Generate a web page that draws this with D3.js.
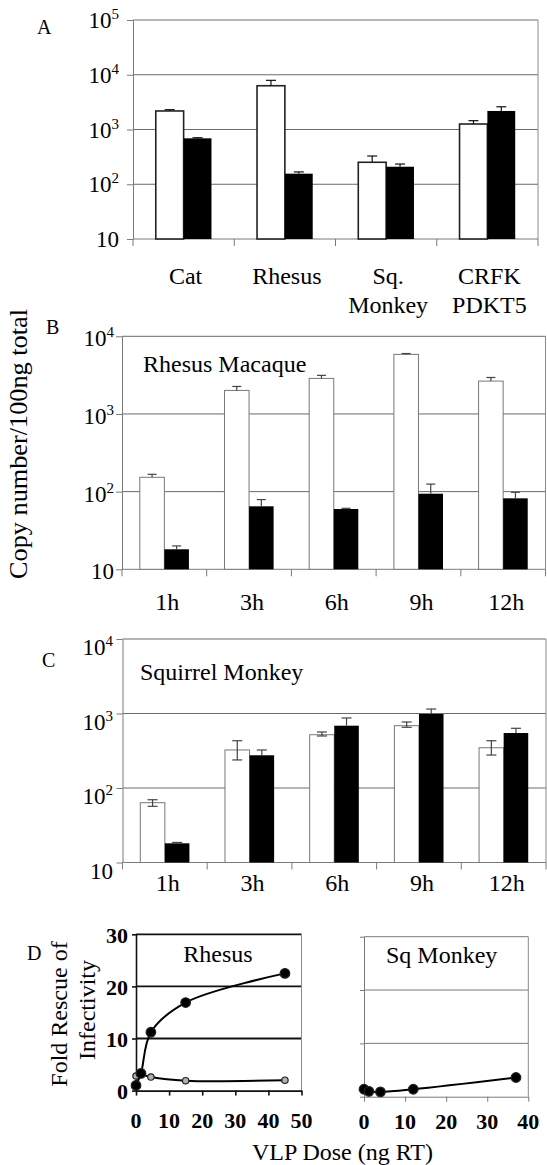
<!DOCTYPE html>
<meta charset="utf-8">
<title>Copy number and fold rescue</title>
<style>
  body { margin: 0; background: #fff; }
  svg { display: block; }
  svg text { font-family: "Liberation Serif", Tinos, "Times New Roman", "DejaVu Serif", serif; }
</style>
<body>
<svg id="fig" width="547" height="1165"></svg>
<script src="https://cdn.jsdelivr.net/npm/d3@7"></script>
<script>
// ---- panel A: cell types ----
const speciesA = [["Cat"], ["Rhesus"], ["Sq.", "Monkey"], ["CRFK", "PDKT5"]];
const whiteA = [2180, 6300, 252, 1260];
const whiteAHi = [2300, 7900, 328, 1450];
const blackA = [690, 156, 209, 2180];
const blackAHi = [708, 168, 234, 2600];
const ticksA = [10, 1e2, 1e3, 1e4, 1e5];

// ---- panels B and C: time course ----
const hours = ["1h", "3h", "6h", "9h", "12h"];
const whiteB = [153, 2010, 2870, 5850, 2650];
const whiteBHi = [167, 2260, 3140, 6000, 2950];
const blackB = [18.1, 64.7, 59.7, 94, 82];
const blackBHi = [20, 79, 61, 125, 98];

const whiteC = [63.5, 324, 519, 686, 347];
const whiteCHi = [69.6, 431, 565, 769, 431];
const whiteCLo = [56.8, 238, 499, 653, 277];
const blackC = [18.1, 275, 686, 985, 547];
const blackCHi = [18.6, 324, 871, 1148, 633];
const ticksBC = [10, 1e2, 1e3, 1e4];

// ---- panel D: fold rescue vs VLP dose ----
const rhesusDose = [0, 1.5, 4.5, 15, 45];
const rhesusFilled = [1.0, 3.3, 11.2, 16.9, 22.5];
const rhesusOpen = [2.8, 3.1, 2.6, 1.9, 2.0];
const sqDose = [0, 1.2, 4, 12, 37];
const sqFilled = [1.4, 1.0, 0.9, 1.4, 3.6];
const foldTicks = [0, 10, 20, 30];
const doseTicksL = [0, 10, 20, 30, 40, 50];
const doseTicksR = [0, 10, 20, 30, 40];

const svg = d3.select("#fig");

function powLabel(g, x, y, v) {
  const e = Math.round(Math.log10(v));
  const t = g.append("text").attr("x", x).attr("y", y)
    .attr("text-anchor", "end").attr("font-size", 23);
  if (e === 1) { t.text("10"); return; }
  t.append("tspan").text("10");
  t.append("tspan").attr("font-size", 15).attr("dy", -9).text(e);
}

function barPanel(o) {
  const g = svg.append("g");
  const y = d3.scaleLog().domain(o.domain).range([o.bottom, o.top]);
  const x = d3.scaleBand().domain(o.cats.map((d, i) => i))
    .range([o.left, o.right]).paddingInner(o.pad).paddingOuter(o.pad / 2);
  const bw = x.bandwidth() / 2;

  // grid + top border
  g.selectAll(null).data(o.ticks.slice(1)).join("line")
    .attr("x1", o.left).attr("x2", o.right)
    .attr("y1", d => y(d)).attr("y2", d => y(d))
    .attr("stroke", "#6a6a6a").attr("stroke-width", 1);
  g.append("line").attr("x1", o.right).attr("x2", o.right)
    .attr("y1", o.top).attr("y2", o.bottom).attr("stroke", "#8a8a8a");

  // y axis
  g.append("g").attr("transform", `translate(${o.left},0)`)
    .call(d3.axisLeft(y).tickValues(o.ticks).tickSize(6).tickSizeOuter(0).tickFormat(""))
    .call(s => s.selectAll("path,line").attr("stroke", "#7a7a7a"));
  o.ticks.forEach(v => powLabel(g, o.labelX, y(v) + 8 + o.labelDy, v));

  // x axis with ticks between categories
  g.append("line").attr("x1", o.left).attr("x2", o.right)
    .attr("y1", o.bottom).attr("y2", o.bottom).attr("stroke", "#7a7a7a");
  const edges = o.cats.map((d, i) => x(i) - x.step() * o.pad / 2).concat([o.right]);
  g.selectAll(null).data(edges).join("line")
    .attr("x1", d => d).attr("x2", d => d)
    .attr("y1", o.bottom).attr("y2", o.bottom + 7).attr("stroke", "#7a7a7a");

  // bars
  g.selectAll(null).data(o.white).join("rect")
    .attr("x", (d, i) => x(i)).attr("width", bw)
    .attr("y", d => y(d)).attr("height", d => o.bottom - y(d))
    .attr("fill", "#fff").attr("stroke", o.outline).attr("stroke-width", o.outlineW);
  g.selectAll(null).data(o.black).join("rect")
    .attr("x", (d, i) => x(i) + bw).attr("width", bw)
    .attr("y", d => y(d)).attr("height", d => o.bottom - y(d))
    .attr("fill", "#000");

  // error bars
  function err(vals, hi, lo, off) {
    vals.forEach((v, i) => {
      const cx = x(i) + off + bw / 2;
      const y0 = lo ? y(lo[i]) : y(v);
      const y1 = y(hi[i]);
      g.append("line").attr("x1", cx).attr("x2", cx).attr("y1", y0).attr("y2", y1)
        .attr("stroke", o.errColor).attr("stroke-width", 1.2);
      [y1].concat(lo ? [y0] : []).forEach(yy =>
        g.append("line").attr("x1", cx - o.cap / 2).attr("x2", cx + o.cap / 2)
          .attr("y1", yy).attr("y2", yy).attr("stroke", o.errColor).attr("stroke-width", 1.2));
    });
  }
  err(o.white, o.whiteHi, o.whiteLo, 0);
  err(o.black, o.blackHi, null, bw);

  // category labels
  o.cats.forEach((lines, i) => {
    const t = g.append("text").attr("text-anchor", "middle").attr("font-size", 24)
      .attr("x", x(i) + x.bandwidth() / 2 + o.catDx).attr("y", o.catY);
    [].concat(lines).forEach((s, k) => t.append("tspan")
      .attr("x", x(i) + x.bandwidth() / 2 + o.catDx).attr("dy", k ? 29 : 0).text(s));
  });
  return g;
}

barPanel({
  cats: speciesA, white: whiteA, whiteHi: whiteAHi, black: blackA, blackHi: blackAHi,
  domain: [10, 1e5], ticks: ticksA, top: 20, bottom: 239, left: 133, right: 538,
  pad: 0.45, labelX: 119, labelDy: 0, catY: 283.5, catDx: 2,
  outline: "#222", outlineW: 1.6, errColor: "#111", cap: 10
});
barPanel({
  cats: hours, white: whiteB, whiteHi: whiteBHi, black: blackB, blackHi: blackBHi,
  domain: [10, 1e4], ticks: ticksBC, top: 336.3, bottom: 569.3, left: 122, right: 545.5,
  pad: 0.42, labelX: 114, labelDy: 2, catY: 610, catDx: 3,
  outline: "#777", outlineW: 1, errColor: "#444", cap: 9
});
barPanel({
  cats: hours, white: whiteC, whiteHi: whiteCHi, whiteLo: whiteCLo, black: blackC, blackHi: blackCHi,
  domain: [10, 1e4], ticks: ticksBC, top: 639, bottom: 862.5, left: 122.5, right: 546,
  pad: 0.42, labelX: 113, labelDy: 8, catY: 891, catDx: 3,
  outline: "#777", outlineW: 1, errColor: "#444", cap: 10
});

// panel letters and in-plot titles
const txt = (x, y, s, size, anchor) => svg.append("text").attr("x", x).attr("y", y)
  .attr("font-size", size).attr("text-anchor", anchor || "start").text(s);
txt(37, 34, "A", 20);
txt(46, 333.5, "B", 20);
txt(42, 667, "C", 20);
txt(27, 960, "D", 20);
txt(143, 372, "Rhesus Macaque", 24);
txt(140, 679.5, "Squirrel Monkey", 24);

svg.append("text").attr("transform", "translate(27,444) rotate(-90)")
  .attr("text-anchor", "middle").attr("font-size", 25)
  .attr("textLength", 270).attr("lengthAdjust", "spacingAndGlyphs")
  .text("Copy number/100ng total");

// ---- panel D ----
function dosePanel(o) {
  const g = svg.append("g");
  const x = d3.scaleLinear().domain(o.xDomain).range([o.left, o.right]);
  const y = d3.scaleLinear().domain([0, 30]).range([o.bottom, o.top]);

  g.selectAll(null).data(foldTicks.slice(1)).join("line")
    .attr("x1", o.left).attr("x2", o.right)
    .attr("y1", d => y(d)).attr("y2", d => y(d))
    .attr("stroke", o.gridColor).attr("stroke-width", o.gridW);
  g.append("line").attr("x1", o.right).attr("x2", o.right)
    .attr("y1", o.top).attr("y2", o.bottom).attr("stroke", "#8a8a8a");

  g.append("g").attr("transform", `translate(${o.left},0)`)
    .call(d3.axisLeft(y).tickValues(foldTicks).tickSize(4).tickSizeOuter(0).tickFormat(""))
    .call(s => s.selectAll("path,line").attr("stroke", o.axisColor).attr("stroke-width", o.axisW));
  g.append("g").attr("transform", `translate(0,${o.bottom})`)
    .call(d3.axisBottom(x).tickValues(o.xTicks).tickSize(5).tickSizeOuter(0).tickFormat(""))
    .call(s => s.selectAll("path,line").attr("stroke", o.axisColor).attr("stroke-width", o.axisW));

  if (o.yLabels) {
    foldTicks.forEach(v => g.append("text").attr("x", 128).attr("y", y(v) + 8.5)
      .attr("text-anchor", "end").attr("font-size", 22).attr("font-weight", "bold").text(v));
  }
  o.xTicks.forEach(v => g.append("text").attr("x", x(v)).attr("y", o.xLabelY)
    .attr("text-anchor", "middle").attr("font-size", 22).attr("font-weight", "bold").text(v));

  const line = d3.line().x(d => x(d[0])).y(d => y(d[1])).curve(d3.curveCatmullRom);
  o.series.forEach(s => {
    const pts = s.xs.map((v, i) => [v, s.ys[i]]);
    g.append("path").attr("d", line(pts)).attr("fill", "none")
      .attr("stroke", "#000").attr("stroke-width", 2);
    g.selectAll(null).data(pts).join("circle")
      .attr("cx", d => x(d[0])).attr("cy", d => y(d[1])).attr("r", s.r)
      .attr("fill", s.fill).attr("stroke", "#222").attr("stroke-width", 1.2);
  });
  return g;
}

dosePanel({
  xDomain: [0, 50], xTicks: doseTicksL, left: 136, right: 301.5, top: 934.3, bottom: 1090.6,
  gridColor: "#111", gridW: 1.8, axisColor: "#111", axisW: 1.6, yLabels: true, xLabelY: 1127.5,
  series: [
    { xs: rhesusDose, ys: rhesusOpen, fill: "#b0b0b0", r: 3.2 },
    { xs: rhesusDose, ys: rhesusFilled, fill: "#000", r: 4.8 }
  ]
});
dosePanel({
  xDomain: [0, 40], xTicks: doseTicksR, left: 364, right: 528.3, top: 936.7, bottom: 1096.7,
  gridColor: "#7a7a7a", gridW: 1, axisColor: "#7a7a7a", axisW: 1, yLabels: false, xLabelY: 1129,
  series: [{ xs: sqDose, ys: sqFilled, fill: "#000", r: 4.8 }]
});

txt(218, 962, "Rhesus", 24, "middle");
txt(441.7, 962.5, "Sq Monkey", 24, "middle");
txt(342.5, 1160, "VLP Dose (ng RT)", 24, "middle");
svg.append("text").attr("transform", "translate(67,1014) rotate(-90)")
  .attr("text-anchor", "middle").attr("font-size", 24).text("Fold Rescue of");
svg.append("text").attr("transform", "translate(95,1010) rotate(-90)")
  .attr("text-anchor", "middle").attr("font-size", 24).text("Infectivity");
</script>
</body>
